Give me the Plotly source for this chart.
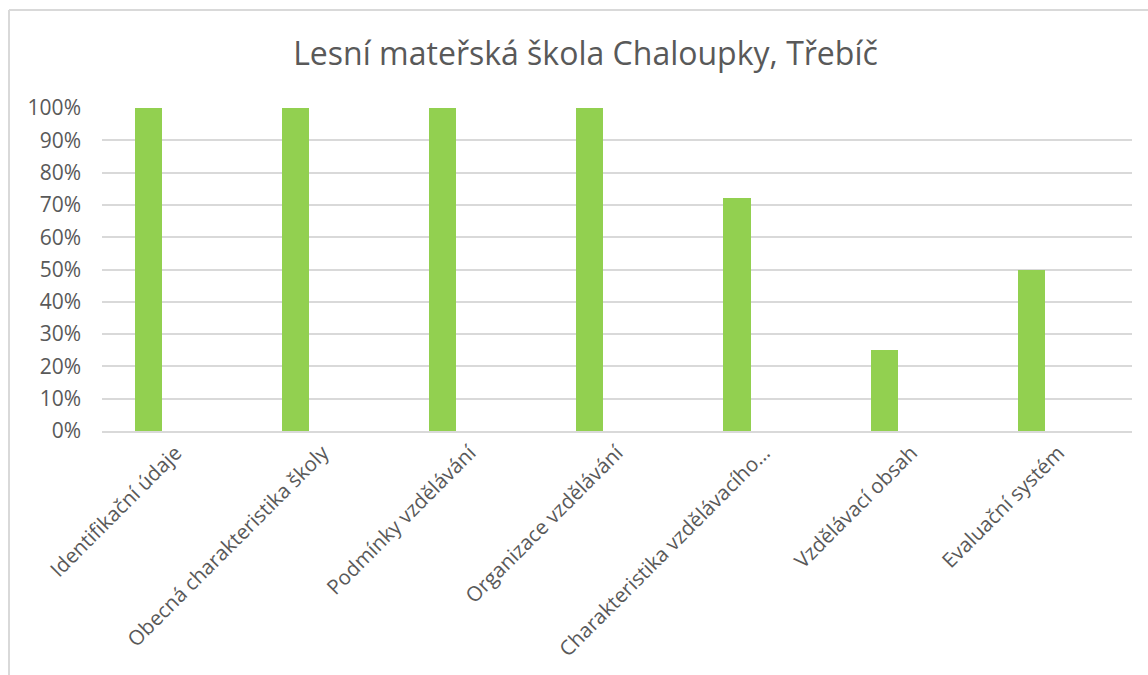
import plotly.graph_objects as go

kategorie = [
    "Identifikační údaje",
    "Obecná charakteristika školy",
    "Podmínky vzdělávání",
    "Organizace vzdělávání",
    "Charakteristika vzdělávacího…",
    "Vzdělávací obsah",
    "Evaluační systém",
]
hodnoty = [1.00, 1.00, 1.00, 1.00, 0.72, 0.25, 0.50]
y_ticky = [0, 0.1, 0.2, 0.3, 0.4, 0.5, 0.6, 0.7, 0.8, 0.9, 1.0]

sedy = "#595959"
font = "Open Sans"

# sloupec je v Excelu prvni ze skupiny, proto je posunut vlevo od stredu kategorie
fig = go.Figure(go.Bar(
    x=kategorie,
    y=hodnoty,
    width=0.185,
    offset=-0.277,
    marker=dict(color="#92D050", line=dict(width=0)),
))

fig.update_layout(
    width=1148, height=675,
    margin=dict(l=102, r=16, t=108, b=244),
    paper_bgcolor="white", plot_bgcolor="white",
    font=dict(family=font, color=sedy, size=20),
    title=dict(text="Lesní mateřská škola Chaloupky, Třebíč",
               x=0.51, xanchor="center", y=0.92, yanchor="middle",
               font=dict(size=32, color=sedy, family=font)),
    showlegend=False,
    bargap=0,
    shapes=[
        dict(type="line", xref="paper", yref="paper",
             x0=-0.0903, x1=1.05, y0=1.3034, y1=1.3034,
             line=dict(color="#D9D9D9", width=2)),
        dict(type="line", xref="paper", yref="paper",
             x0=-0.0903, x1=-0.0903, y0=1.3034, y1=-0.76,
             line=dict(color="#D9D9D9", width=2)),
    ],
)

fig.update_yaxes(range=[0, 1.0], tickvals=y_ticky, tickformat=".0%",
                 showgrid=True, gridcolor="#D9D9D9", gridwidth=1.5,
                 zeroline=False, showline=False, ticks="", automargin=False,
                 tickfont=dict(size=21, color=sedy), ticklabelstandoff=20)
fig.update_xaxes(tickangle=-45, showgrid=False, showline=True, automargin=False,
                 linecolor="#D9D9D9", linewidth=1.5, ticks="",
                 tickfont=dict(size=20.5, color=sedy))

# bez okraje stranky, aby graf sedel presne v okne
fig.write_html("out.html", config={"displayModeBar": False},
               post_script="document.body.style.margin='0';")
